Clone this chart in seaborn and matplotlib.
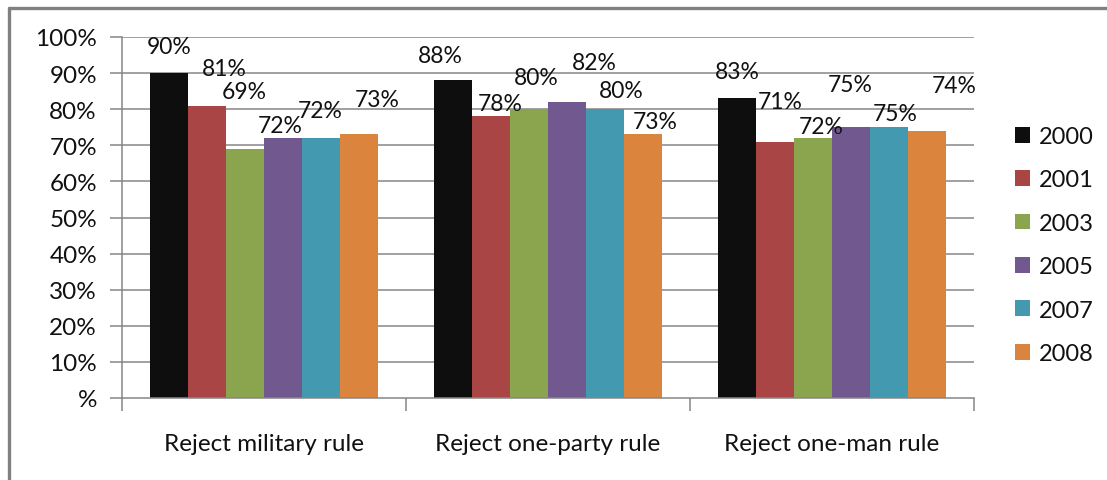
import matplotlib
matplotlib.use("Agg")
import matplotlib.pyplot as plt
from matplotlib.lines import Line2D
from matplotlib.patches import Patch
import seaborn as sns
import pandas as pd

# Share of respondents rejecting each form of non-democratic rule, by survey year
categories = ["Reject military rule", "Reject one-party rule", "Reject one-man rule"]
years = ["2000", "2001", "2003", "2005", "2007", "2008"]
values = {
    "2000": [90, 88, 83],
    "2001": [81, 78, 71],
    "2003": [69, 80, 72],
    "2005": [72, 82, 75],
    "2007": [72, 80, 75],
    "2008": [73, 73, 74],
}
y_ticks = [0, 10, 20, 30, 40, 50, 60, 70, 80, 90, 100]
y_tick_labels = ["%", "10%", "20%", "30%", "40%", "50%", "60%", "70%", "80%", "90%", "100%"]

colors = ["#0e0e0e", "#a94645", "#8aa54e", "#71588f", "#4299b0", "#db843d"]

# Label nudges (pixels) so neighbouring value labels stay readable
label_nudge = {
    "2000": [(0, 27), (-13, 25), (0, 27)],
    "2001": [(17, 37), (9, 13), (5, 40)],
    "2003": [(-1, 57), (7, 32), (8, 12)],
    "2005": [(-3, 13), (27, 39), (-1, 43)],
    "2007": [(-1, 28), (16, 19), (6, 14)],
    "2008": [(19, 35), (13, 13), (28, 45)],
}

rows = []
for yr in years:
    for cat, v in zip(categories, values[yr]):
        rows.append({"category": cat, "year": yr, "value": v})
df = pd.DataFrame(rows)

sns.set_style("white")
plt.rcParams["font.family"] = ["Lato", "DejaVu Sans"]

W, H = 1107, 481
fig = plt.figure(figsize=(W / 100, H / 100), dpi=100)
ax = fig.add_axes([122 / W, (H - 399) / H, (974 - 122) / W, (399 - 38) / H])

grid_c = "#868686"
text_c = "#111111"
ax.set_axisbelow(True)
for t in y_ticks[1:]:
    ax.axhline(t, color=grid_c, lw=1.1, zorder=0)

sns.barplot(data=df, x="category", y="value", hue="year", hue_order=years,
            order=categories, palette=colors, width=0.8, saturation=1,
            edgecolor="none", linewidth=0, legend=False, ax=ax, zorder=2)

ax.set_ylim(0, 100)
ax.set_xlim(-0.5, 2.5)
ax.set_yticks(y_ticks)
ax.set_yticklabels(y_tick_labels)
ax.set_xlabel("")
ax.set_ylabel("")

for s in ["top", "right"]:
    ax.spines[s].set_visible(False)
for s in ["left", "bottom"]:
    ax.spines[s].set_color(grid_c)
    ax.spines[s].set_linewidth(1.1)

ax.tick_params(axis="y", length=9, width=1.1, color=grid_c, labelsize=17.5,
               pad=9, labelcolor=text_c, direction="out", left=True)
ax.set_xticks([0, 1, 2])
ax.set_xticklabels(categories)
ax.set_xticks([-0.5, 0.5, 1.5, 2.5], minor=True)
ax.tick_params(axis="x", which="major", length=0, labelsize=17.5, pad=25,
               labelcolor=text_c)
ax.tick_params(axis="x", which="minor", length=9, width=1.1, color=grid_c,
               direction="out", bottom=True)

for yr, cont in zip(years, ax.containers):
    for bar, v, (dx, dy) in zip(cont.patches, values[yr], label_nudge[yr]):
        cx = bar.get_x() + bar.get_width() / 2
        ax.annotate(f"{v}%", xy=(cx, v), xytext=(dx, dy), textcoords="offset pixels",
                    ha="center", va="center", fontsize=16.5, color=text_c,
                    zorder=5)

handles = [Patch(facecolor=c, edgecolor="none") for c in colors]
fig.legend(handles, years, loc="center left",
           bbox_to_anchor=(1015 / W, 1 - 246 / H), frameon=False,
           fontsize=17, handlelength=0.65, handleheight=0.65, handletextpad=0.35,
           labelspacing=0.95, borderpad=0, borderaxespad=0, labelcolor=text_c)

# Outer chart frame (top and left edges)
border_c = "#808080"
fig.add_artist(Line2D([8.5 / W, 1], [1 - 8.5 / H, 1 - 8.5 / H], color=border_c,
                      lw=2.4, transform=fig.transFigure))
fig.add_artist(Line2D([8.5 / W, 8.5 / W], [0, 1 - 8.5 / H], color=border_c,
                      lw=2.4, transform=fig.transFigure))

fig.savefig("out.png", dpi=100, facecolor="white")
